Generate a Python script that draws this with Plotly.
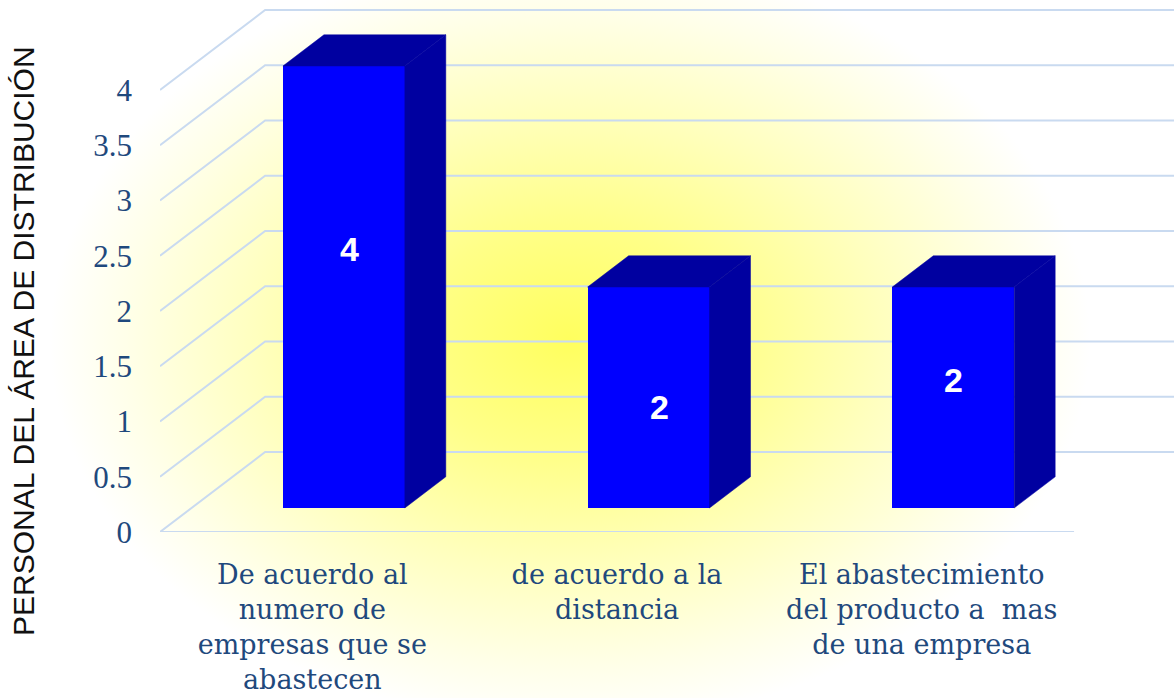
import base64
import plotly.graph_objects as go

# Data
categories = [
    "De acuerdo al<br>numero de<br>empresas que se<br>abastecen",
    "de acuerdo a la<br>distancia",
    "El abastecimiento<br>del producto a  mas<br>de una empresa",
]
values = [4, 2, 2]
value_labels = ["4", "2", "2"]
y_ticks = [0, 0.5, 1, 1.5, 2, 2.5, 3, 3.5, 4]
y_tick_text = ["0", "0.5", "1", "1.5", "2", "2.5", "3", "3.5", "4"]
y_title = "PERSONAL DEL ÁREA DE DISTRIBUCIÓN"

# Pseudo-3D geometry (data units)
DEPTH_X = 0.345        # horizontal shift of the back wall
DEPTH_Y = 0.724        # vertical shift of the back wall
FRONT_F = 0.30         # depth fraction of the bar front faces
BACK_F = 0.69          # depth fraction of the bar back faces
BAR_W = 0.40
LABEL_FRAC = [0.586, 0.457, 0.577]   # label height as fraction of each bar
LABEL_DX = [0.02, 0.035, 0.0]

FRONT_BLUE = "#0000FF"
SHADE_BLUE = "#0000A0"
GRID = "#C9DAF0"
TEXT_BLUE = "#1F497D"

n = len(values)
x_pos = list(range(n))
x_left, x_right = -0.5, n - 0.5

fig = go.Figure()

# Side-wall diagonals + back-wall gridlines + floor front edge (behind the bars)
grid_line = dict(color=GRID, width=2)
for v in y_ticks:
    path = (f"M {x_left},{v} L {x_left + DEPTH_X},{v + DEPTH_Y} "
            f"L {x_right + DEPTH_X},{v + DEPTH_Y}")
    fig.add_shape(type="path", path=path, xref="x", yref="y",
                  line=grid_line, layer="below")
fig.add_shape(type="line", x0=x_left, y0=0, x1=x_right, y1=0,
              xref="x", yref="y", line=grid_line, layer="below")

# Bar front faces
fx0, fy0 = FRONT_F * DEPTH_X, FRONT_F * DEPTH_Y
fx1, fy1 = BACK_F * DEPTH_X, BACK_F * DEPTH_Y
fig.add_trace(go.Bar(x=[i + fx0 for i in x_pos], y=values, base=fy0,
                     width=BAR_W, marker=dict(color=FRONT_BLUE, line=dict(width=0)),
                     hoverinfo="skip", showlegend=False))

# Top and side faces of each bar
tx, ty, sx, sy = [], [], [], []
for i, v in zip(x_pos, values):
    xl = i + fx0 - BAR_W / 2
    xr = i + fx0 + BAR_W / 2
    dx = fx1 - fx0
    tx += [xl, xr, xr + dx, xl + dx, xl, None]
    ty += [v + fy0, v + fy0, v + fy1, v + fy1, v + fy0, None]
    sx += [xr, xr, xr + dx, xr + dx, xr, None]
    sy += [fy0, v + fy0, v + fy1, fy1, fy0, None]
for px, py in ((tx, ty), (sx, sy)):
    fig.add_trace(go.Scatter(x=px, y=py, mode="lines", fill="toself",
                             fillcolor=SHADE_BLUE, line=dict(color=SHADE_BLUE, width=0.5),
                             hoverinfo="skip", showlegend=False))

# Value labels inside the bars
for i, v, t, f, d in zip(x_pos, values, value_labels, LABEL_FRAC, LABEL_DX):
    fig.add_annotation(x=i + fx0 + d, y=fy0 + v * f, text=t, showarrow=False,
                       xref="x", yref="y",
                       font=dict(family="Liberation Sans", size=34, color="white",
                                 weight="bold"))

# Vertical axis title
fig.add_annotation(text=y_title, textangle=-90, showarrow=False,
                   xref="paper", yref="paper", x=-136 / 1014, y=191 / 524,
                   xanchor="center", yanchor="middle",
                   font=dict(family="Liberation Sans", size=30, color="#111111"))

# Soft yellow radial backdrop
svg = (
    '<svg xmlns="http://www.w3.org/2000/svg" width="1174" height="698">'
    '<defs><radialGradient id="g" gradientUnits="userSpaceOnUse" cx="570" cy="340" r="520" '
    'gradientTransform="translate(570 340) scale(1 0.74) translate(-570 -340)">'
    '<stop offset="0" stop-color="#FFFF5E"/>'
    '<stop offset="0.3" stop-color="#FFFF88"/>'
    '<stop offset="0.6" stop-color="#FFFFBE"/>'
    '<stop offset="0.85" stop-color="#FFFFE8"/>'
    '<stop offset="1" stop-color="#FFFFFF"/>'
    '</radialGradient></defs>'
    '<rect width="1174" height="698" fill="url(#g)"/></svg>'
)
src = "data:image/svg+xml;base64," + base64.b64encode(svg.encode()).decode()
fig.add_layout_image(source=src, xref="paper", yref="paper",
                     x=-160 / 1014, y=1 + 8 / 524, sizex=1174 / 1014, sizey=698 / 524,
                     xanchor="left", yanchor="top", sizing="stretch", layer="below")

fig.update_layout(
    width=1174, height=698,
    margin=dict(l=160, r=0, t=8, b=166),
    paper_bgcolor="white", plot_bgcolor="rgba(0,0,0,0)",
    showlegend=False, bargap=0,
    xaxis=dict(range=[x_left, 2.828], tickvals=x_pos, ticktext=categories,
               showgrid=False, zeroline=False, showline=False, ticks="",
               ticklabelstandoff=24,
               tickfont=dict(family="DejaVu Serif", size=27, color=TEXT_BLUE)),
    yaxis=dict(range=[0, 4.742], tickvals=y_ticks, ticktext=y_tick_text,
               showgrid=False, zeroline=False, showline=False, ticks="",
               ticklabelstandoff=27,
               tickfont=dict(family="Liberation Serif", size=31, color=TEXT_BLUE)),
)

fig.write_html("out.html")
